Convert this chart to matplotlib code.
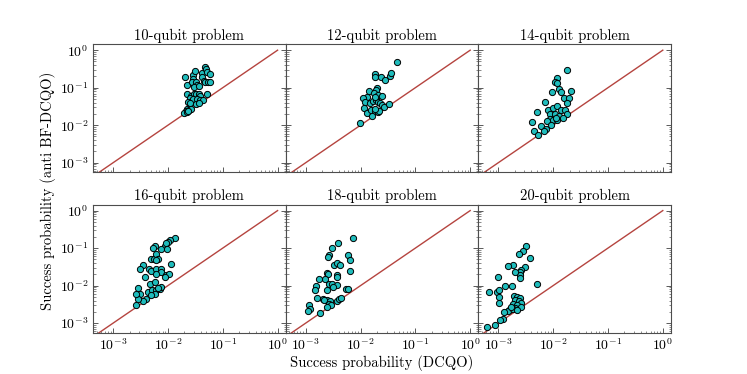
import numpy as np
import matplotlib
matplotlib.use("Agg")
import matplotlib.pyplot as plt

plt.rcParams['font.family'] = ['cmr10', 'DejaVu Serif']
plt.rcParams['mathtext.fontset'] = 'cm'
plt.rcParams['axes.formatter.use_mathtext'] = True
plt.rcParams['axes.unicode_minus'] = False

titles = ["10-qubit problem", "12-qubit problem", "14-qubit problem",
          "16-qubit problem", "18-qubit problem", "20-qubit problem"]

# success probabilities: DCQO (x) vs anti BF-DCQO (y)
x10 = [0.0204, 0.0219, 0.0288, 0.0309, 0.0288, 0.0275, 0.0322, 0.0339, 0.030, 0.037,
       0.041, 0.0427, 0.0468, 0.050, 0.0516, 0.0575, 0.0447, 0.0468, 0.0537, 0.0575,
       0.0226, 0.0269, 0.0295, 0.0322, 0.037, 0.038, 0.0516, 0.0251, 0.0288, 0.0339,
       0.038, 0.0437, 0.0234, 0.0257, 0.0322, 0.037, 0.0224, 0.0243, 0.0269, 0.0211,
       0.020, 0.0219, 0.0234]
y10 = [0.187, 0.117, 0.216, 0.277, 0.166, 0.138, 0.144, 0.117, 0.105, 0.110,
       0.240, 0.187, 0.347, 0.307, 0.265, 0.230, 0.153, 0.144, 0.144, 0.144,
       0.070, 0.0594, 0.070, 0.0671, 0.0671, 0.0594, 0.070, 0.0547, 0.0514, 0.0514,
       0.0484, 0.0484, 0.0419, 0.0394, 0.0378, 0.0394, 0.0278, 0.0261, 0.0278, 0.0241,
       0.0217, 0.0226, 0.0241]

x12 = [0.0464, 0.018, 0.018, 0.0238, 0.0277, 0.0341, 0.0361, 0.0201, 0.0195, 0.0144,
       0.0175, 0.0207, 0.0244, 0.0132, 0.011, 0.0123, 0.0148, 0.017, 0.019, 0.0207,
       0.0231, 0.0251, 0.0266, 0.0332, 0.0115, 0.0132, 0.0156, 0.0187, 0.0207, 0.0221,
       0.0163, 0.00973, 0.018, 0.0187]
y12 = [0.478, 0.230, 0.195, 0.195, 0.159, 0.204, 0.250, 0.101, 0.086, 0.0824,
       0.0729, 0.0631, 0.0594, 0.057, 0.0536, 0.0419, 0.0394, 0.0446, 0.0465, 0.0419,
       0.0394, 0.0341, 0.0308, 0.0363, 0.029, 0.0213, 0.0261, 0.0241, 0.0226, 0.0241,
       0.0174, 0.0115, 0.0278, 0.0558]

x14 = [0.0181, 0.012, 0.011, 0.012, 0.0096, 0.0127, 0.0142, 0.0211, 0.0159, 0.0194,
       0.0178, 0.00703, 0.00508, 0.0081, 0.010, 0.012, 0.0142, 0.0164, 0.0178, 0.0087,
       0.0107, 0.0127, 0.0153, 0.00411, 0.00594, 0.0087, 0.010, 0.012, 0.00787, 0.00906,
       0.00755, 0.00685, 0.00448, 0.00531, 0.0115]
y14 = [0.294, 0.184, 0.139, 0.130, 0.078, 0.090, 0.0752, 0.0808, 0.0547, 0.0547,
       0.0402, 0.0419, 0.0226, 0.0251, 0.029, 0.0321, 0.0251, 0.0251, 0.0204, 0.020,
       0.020, 0.0174, 0.0158, 0.0122, 0.00957, 0.0144, 0.0135, 0.0135, 0.0127, 0.0104,
       0.00813, 0.00708, 0.00692, 0.00562, 0.0157]

x16 = [0.0133, 0.0108, 0.0101, 0.00876, 0.0091, 0.00577, 0.00537, 0.00762, 0.00966, 0.0049,
       0.00563, 0.00618, 0.00672, 0.00601, 0.0115, 0.00353, 0.00316, 0.00454, 0.005, 0.00618,
       0.00762, 0.00741, 0.00618, 0.0094, 0.0105, 0.00876, 0.0038, 0.00468, 0.00577, 0.00279,
       0.00307, 0.00436, 0.00522, 0.00618, 0.00711, 0.00762, 0.00662, 0.00577, 0.005, 0.00406,
       0.00353, 0.00286, 0.00267, 0.00267]
y16 = [0.184, 0.166, 0.144, 0.117, 0.135, 0.117, 0.0995, 0.0918, 0.0918, 0.0518,
       0.0518, 0.0704, 0.0518, 0.0468, 0.0382, 0.0345, 0.0281, 0.0281, 0.0239, 0.027,
       0.027, 0.0229, 0.0199, 0.0195, 0.0207, 0.0169, 0.0169, 0.0112, 0.0124, 0.0086,
       0.00583, 0.00673, 0.00745, 0.00745, 0.00793, 0.00914, 0.0086, 0.00608, 0.0055, 0.00448,
       0.0038, 0.0043, 0.00297, 0.00608]

x18 = [0.00726, 0.00387, 0.00305, 0.00265, 0.00255, 0.00589, 0.0064, 0.0064, 0.00327, 0.00366,
       0.00421, 0.00248, 0.00258, 0.00221, 0.00175, 0.00366, 0.00377, 0.00265, 0.00305, 0.00377,
       0.00318, 0.00248, 0.00156, 0.00146, 0.00534, 0.00597, 0.00163, 0.00207, 0.00248, 0.00215,
       0.00277, 0.00377, 0.00404, 0.00445, 0.00265, 0.00285, 0.00241, 0.00115, 0.0012, 0.0011,
       0.00182]
y18 = [0.191, 0.138, 0.102, 0.0636, 0.0574, 0.0636, 0.0468, 0.0239, 0.0359, 0.0406,
       0.0345, 0.022, 0.0207, 0.0152, 0.0152, 0.0195, 0.0169, 0.0112, 0.0112, 0.0105,
       0.00914, 0.00745, 0.00953, 0.00745, 0.00826, 0.00826, 0.00466, 0.0043, 0.00404, 0.00404,
       0.0038, 0.0038, 0.0043, 0.00466, 0.0033, 0.0031, 0.00269, 0.00297, 0.00243, 0.00206,
       0.0019]

x20 = [0.00315, 0.00281, 0.00234, 0.00373, 0.00302, 0.00255, 0.00244, 0.00244, 0.00248, 0.00203,
       0.00185, 0.00153, 0.000977, 0.00508, 0.00135, 0.00177, 0.00095, 0.000688, 0.00105, 0.00105,
       0.00105, 0.00192, 0.00221, 0.00244, 0.00203, 0.00234, 0.00255, 0.00185, 0.00221, 0.00262,
       0.00198, 0.0016, 0.00149, 0.00126, 0.00185, 0.00221, 0.00121, 0.00109, 0.000873, 0.000622,
       0.00167]
y20 = [0.117, 0.0813, 0.0704, 0.054, 0.0311, 0.0264, 0.0229, 0.0187, 0.0158, 0.0229,
       0.0345, 0.0331, 0.0169, 0.0112, 0.00953, 0.00953, 0.00673, 0.00673, 0.00745, 0.00495,
       0.0035, 0.00516, 0.00495, 0.00466, 0.00421, 0.0038, 0.00343, 0.0033, 0.00297, 0.00269,
       0.00253, 0.00219, 0.00206, 0.00198, 0.00233, 0.00225, 0.00131, 0.00119, 0.0009, 0.00079,
       0.00269]

xs = [x10, x12, x14, x16, x18, x20]
ys = [y10, y12, y14, y16, y18, y20]

fig, axes = plt.subplots(2, 3, figsize=(7.47, 3.74), dpi=100, sharex=True, sharey=True)
plt.subplots_adjust(left=0.1245, right=0.898, top=0.882, bottom=0.110, wspace=0, hspace=0.25)

diag = np.array([1e-4, 1.0])
for ax, t, x, y in zip(axes.flat, titles, xs, ys):
    ax.plot(diag, diag, color='#b5443f', lw=1.0, zorder=1)
    ax.scatter(x, y, s=20, c='#1fbcbc', edgecolors='black', linewidths=0.7, zorder=2)
    ax.set_xscale('log')
    ax.set_yscale('log')
    ax.set_title(t, fontsize=10.5, pad=3)
    ax.tick_params(which='both', direction='in', right=True, top=False, labelsize=10,
                   color='0.35', width=0.5)
    ax.tick_params(which='major', length=3.5, width=0.7)
    ax.tick_params(which='minor', length=1.8)
    for s in ax.spines.values():
        s.set_color('0.3')
        s.set_linewidth(0.8)

axes[0, 0].set_xlim(4.3e-4, 1.4)
axes[0, 0].set_ylim(5.5e-4, 1.45)
axes[0, 0].set_xticks([1e-3, 1e-2, 1e-1, 1])
axes[0, 0].set_yticks([1e-3, 1e-2, 1e-1, 1])

fig.text(0.511, 0.03, "Success probability (DCQO)", ha='center', va='center', fontsize=10.5)
fig.text(0.064, 0.49, "Success probability (anti BF-DCQO)", ha='center', va='center',
         rotation=90, fontsize=10.5)

plt.savefig("out.png", dpi=100)
